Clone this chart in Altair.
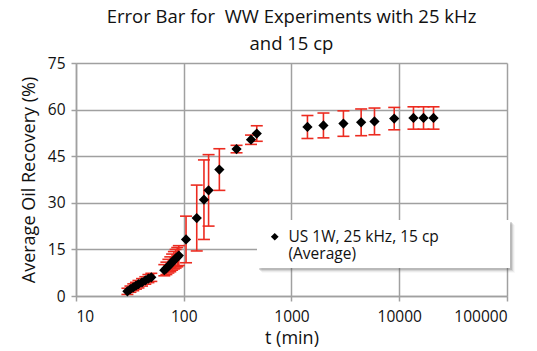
import altair as alt
import pandas as pd

# ---- data ----
t_min = [30, 32, 34, 36, 38, 41, 44, 47, 50,
         66, 69, 72, 75, 78, 81, 84, 87, 90,
         105, 132, 154, 170, 214, 309, 421, 476,
         1406, 1979, 3033, 4430, 5890, 8980, 13550, 16800, 20800]
recovery = [1.5, 2.2, 2.8, 3.3, 3.8, 4.4, 5.0, 5.6, 6.0,
            8.3, 8.9, 9.6, 10.2, 10.9, 11.5, 12.0, 12.5, 13.0,
            18.2, 25.1, 31.0, 34.0, 40.7, 47.3, 50.3, 52.3,
            54.4, 54.9, 55.5, 55.9, 56.2, 57.1, 57.3, 57.3, 57.3]
err = [1.0, 1.0, 1.1, 1.1, 1.2, 1.2, 1.2, 1.3, 1.3,
       1.8, 2.0, 2.2, 2.4, 2.6, 2.8, 3.0, 3.1, 3.2,
       7.5, 10.6, 12.8, 11.5, 6.7, 1.2, 1.5, 2.5,
       3.7, 4.0, 4.1, 4.3, 4.3, 3.6, 3.6, 3.6, 3.6]
series_name = "US 1W, 25 kHz, 15 cp|(Average)"
title_lines = ["Error Bar for\u00a0\u00a0WW Experiments with 25 kHz", "and 15 cp"]
x_ticks = [10, 100, 1000, 10000, 100000]
y_ticks = [0, 15, 30, 45, 60, 75]

df = pd.DataFrame({"t": t_min, "v": recovery, "e": err})
df["lo"] = df["v"] - df["e"]
df["hi"] = df["v"] + df["e"]
df["series"] = series_name

FONT = "Open Sans"
RED = "#ec2b20"
W, H = 431, 233

xscale = alt.Scale(type="log", domain=[10, 100000], nice=False)
yscale = alt.Scale(domain=[0, 75], nice=False)

xaxis = alt.Axis(values=x_ticks, format="d", title="t (min)", grid=True,
                 labelFontSize=15.5, titleFontSize=18, labelPadding=8,
                 titlePadding=5, tickSize=5)
yaxis = alt.Axis(values=y_ticks, title="Average Oil Recovery (%)", grid=True,
                 labelFontSize=15.5, titleFontSize=18, labelPadding=6,
                 titlePadding=9, tickSize=5)

base = alt.Chart(df)

bars = base.mark_rule(color=RED, strokeWidth=1.6).encode(
    x=alt.X("t:Q", scale=xscale, axis=xaxis),
    y=alt.Y("lo:Q", scale=yscale, axis=yaxis),
    y2="hi:Q",
)
cap_lo = base.mark_tick(color=RED, orient="horizontal", size=12, thickness=1.6, opacity=1).encode(
    x=alt.X("t:Q", scale=xscale), y=alt.Y("lo:Q", scale=yscale))
cap_hi = base.mark_tick(color=RED, orient="horizontal", size=12, thickness=1.6, opacity=1).encode(
    x=alt.X("t:Q", scale=xscale), y=alt.Y("hi:Q", scale=yscale))

# legend box (decoration) with a soft shadow
box_df = pd.DataFrame({"k": [0]})
shadow = []
for i, op in enumerate([0.22, 0.14, 0.08, 0.04]):
    d = i + 2
    shadow.append(alt.Chart(box_df).mark_rect(color="#555", opacity=op).encode(
        x=alt.value(181 + d), x2=alt.value(434 + d),
        y=alt.value(157 + d), y2=alt.value(205 + d)))
box = alt.Chart(box_df).mark_rect(color="white").encode(
    x=alt.value(181), x2=alt.value(434), y=alt.value(157), y2=alt.value(205))

points = base.mark_point(shape="diamond", filled=True, size=105, opacity=1).encode(
    x=alt.X("t:Q", scale=xscale),
    y=alt.Y("v:Q", scale=yscale),
    color=alt.Color("series:N", scale=alt.Scale(range=["black"]),
                    legend=alt.Legend(title=None, orient="none", legendX=191, legendY=166,
                                      symbolType="diamond", symbolSize=60, symbolFillColor="black",
                                      labelFontSize=15.5, labelLimit=400,
                                      labelExpr="split(datum.label, '|')",
                                      labelFont=FONT, symbolOffset=0, labelOffset=6)),
)

chart = alt.layer(bars, cap_lo, cap_hi, *shadow, box, points).properties(
    width=W, height=H,
    title=alt.TitleParams(title_lines,
                          fontSize=18.5, fontWeight="normal", font=FONT, color="#111",
                          anchor="middle", lineHeight=27, offset=3),
    padding={"left": 76, "top": 63, "right": 30, "bottom": 55},
    autosize=alt.AutoSizeParams(type="none"),
).configure_axis(
    gridColor="#a0a0a0", gridWidth=1.5, domainColor="#a0a0a0", domainWidth=1.5,
    tickColor="#a0a0a0", tickWidth=1.5, labelColor="#111", titleColor="#111",
    labelFont=FONT, titleFont=FONT, titleFontWeight="normal",
).configure_view(stroke=None).configure_legend(labelColor="#111")

chart.save("out.html", embed_options={"renderer": "svg", "actions": False})
